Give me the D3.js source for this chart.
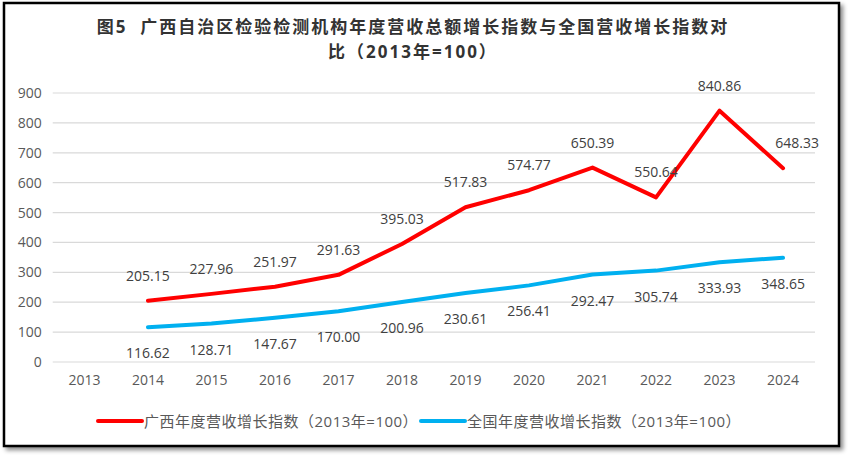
<!DOCTYPE html>
<html>
<head>
<meta charset="utf-8">
<script src="https://cdn.jsdelivr.net/npm/d3@7"></script>
<style>
  body { margin: 0; background: #fff; }
  text { font-family: "Open Sans", "Noto Sans CJK SC", sans-serif; }
</style>
</head>
<body>
<div id="chart"></div>
<script>
var years = ["2013", "2014", "2015", "2016", "2017", "2018", "2019", "2020", "2021", "2022", "2023", "2024"];
var gxYears = ["2014", "2015", "2016", "2017", "2018", "2019", "2020", "2021", "2022", "2023", "2024"];
var gxValues = [205.15, 227.96, 251.97, 291.63, 395.03, 517.83, 574.77, 650.39, 550.64, 840.86, 648.33];
var cnValues = [116.62, 128.71, 147.67, 170.00, 200.96, 230.61, 256.41, 292.47, 305.74, 333.93, 348.65];
var yTicks = [0, 100, 200, 300, 400, 500, 600, 700, 800, 900];
var seriesNames = ["广西年度营收增长指数（2013年=100）", "全国年度营收增长指数（2013年=100）"];
var titleLines = ["图5\u00a0\u00a0广西自治区检验检测机构年度营收总额增长指数与全国营收增长指数对", "比（2013年=100）"];

var svgWidth = 850;
var svgHeight = 460;

var svg = d3.select("#chart")
  .append("svg")
  .attr("width", svgWidth)
  .attr("height", svgHeight);

// shadowed frame
var defs = svg.append("defs");
var shadow = defs.append("filter").attr("id", "shadow")
  .attr("x", "-5%").attr("y", "-5%").attr("width", "110%").attr("height", "115%");
shadow.append("feDropShadow")
  .attr("dx", 3).attr("dy", 3).attr("stdDeviation", 2)
  .attr("flood-color", "#000").attr("flood-opacity", 0.45);

svg.append("rect")
  .attr("x", 4).attr("y", 3)
  .attr("width", 835).attr("height", 443)
  .attr("fill", "#fff")
  .attr("stroke", "#000")
  .attr("stroke-width", 2.5)
  .attr("filter", "url(#shadow)");

// title
svg.append("g").selectAll("text")
  .data(titleLines)
  .enter()
  .append("text")
  .attr("x", 413)
  .attr("y", (d, i) => 33 + i * 25)
  .attr("text-anchor", "middle")
  .attr("font-family", "'Noto Sans CJK SC', sans-serif")
  .attr("font-weight", "bold")
  .attr("font-size", 17)
  .attr("letter-spacing", 2)
  .attr("fill", "#333")
  .text(d => d);

var xScale = d3.scaleBand()
  .domain(years)
  .range([52.7, 814.8]);

var yScale = d3.scaleLinear()
  .domain([0, 900])
  .range([362, 93]);

var cx = d => xScale(d) + xScale.bandwidth() / 2;

// gridlines
svg.append("g").selectAll("line")
  .data(yTicks)
  .enter()
  .append("line")
  .attr("x1", 52.7)
  .attr("x2", 815)
  .attr("y1", d => yScale(d))
  .attr("y2", d => yScale(d))
  .attr("stroke", "#d9d9d9")
  .attr("stroke-width", 1.2);

// y axis
var leftAxis = d3.axisLeft(yScale).tickValues(yTicks).tickSize(0).tickPadding(11);
var yAxis = svg.append("g")
  .attr("transform", "translate(52.7,0)")
  .call(leftAxis);
yAxis.select(".domain").remove();
yAxis.selectAll("text")
  .attr("font-family", "'Open Sans', sans-serif")
  .attr("font-size", 14)
  .attr("fill", "#595959");

// x axis
var bottomAxis = d3.axisBottom(xScale).tickSize(0).tickPadding(13);
var xAxis = svg.append("g")
  .attr("transform", "translate(0,362)")
  .call(bottomAxis);
xAxis.select(".domain").remove();
xAxis.selectAll("text")
  .attr("font-family", "'Open Sans', sans-serif")
  .attr("font-size", 14)
  .attr("fill", "#595959");

var gxData = gxYears.map((y, i) => ({ year: y, value: gxValues[i] }));
var cnData = gxYears.map((y, i) => ({ year: y, value: cnValues[i] }));

var line = d3.line()
  .x(d => cx(d.year))
  .y(d => yScale(d.value));

svg.append("path")
  .datum(cnData)
  .attr("d", line)
  .attr("fill", "none")
  .attr("stroke", "#00b0f0")
  .attr("stroke-width", 4)
  .attr("stroke-linejoin", "round")
  .attr("stroke-linecap", "round");

svg.append("path")
  .datum(gxData)
  .attr("d", line)
  .attr("fill", "none")
  .attr("stroke", "#ff0000")
  .attr("stroke-width", 4)
  .attr("stroke-linejoin", "round")
  .attr("stroke-linecap", "round");

// data labels
svg.append("g").selectAll("text")
  .data(gxData)
  .enter()
  .append("text")
  .attr("x", (d, i) => cx(d.year) + (i === gxData.length - 1 ? 14 : 0))
  .attr("y", d => yScale(d.value) - 20)
  .attr("text-anchor", "middle")
  .attr("font-size", 14)
  .attr("fill", "#404040")
  .text(d => d.value.toFixed(2));

svg.append("g").selectAll("text")
  .data(cnData)
  .enter()
  .append("text")
  .attr("x", d => cx(d.year))
  .attr("y", d => yScale(d.value) + 31)
  .attr("text-anchor", "middle")
  .attr("font-size", 14)
  .attr("fill", "#404040")
  .text(d => d.value.toFixed(2));

// legend
var legendX = [98, 421];
var legendColors = ["#ff0000", "#00b0f0"];
var legend = svg.append("g").selectAll("g")
  .data(seriesNames)
  .enter()
  .append("g")
  .attr("transform", (d, i) => `translate(${legendX[i]}, 421)`);

legend.append("line")
  .attr("x1", 0).attr("x2", 44)
  .attr("y1", 0).attr("y2", 0)
  .attr("stroke", (d, i) => legendColors[i])
  .attr("stroke-width", 4)
  .attr("stroke-linecap", "round");

legend.append("text")
  .attr("x", 46)
  .attr("y", 5.5)
  .attr("font-family", "'Noto Sans CJK SC', sans-serif")
  .attr("font-size", 15)
  .attr("letter-spacing", 0.5)
  .attr("fill", "#595959")
  .text(d => d);
</script>
</body>
</html>
